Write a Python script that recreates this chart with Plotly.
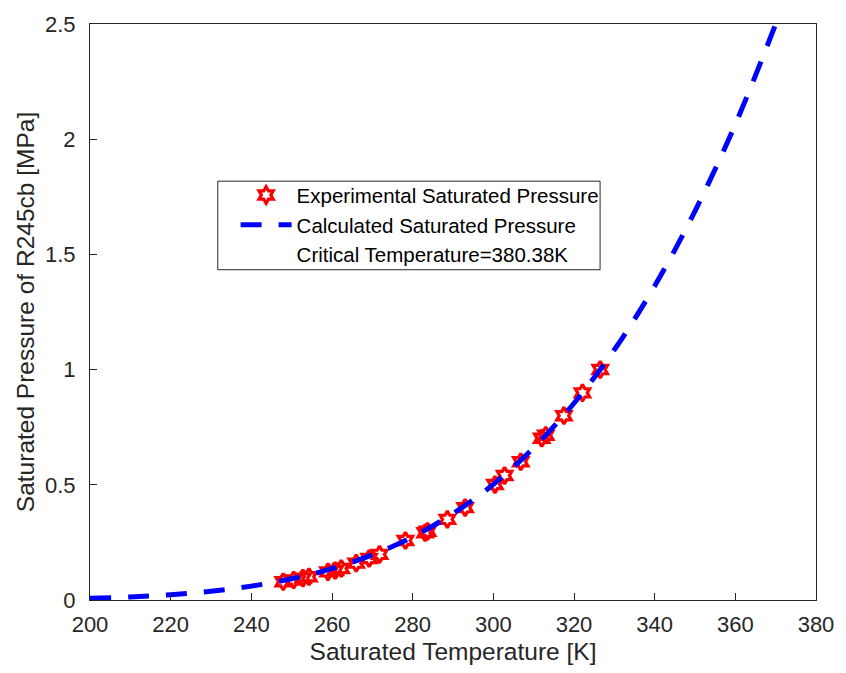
import plotly.graph_objects as go

# Experimental saturated pressure of R245cb
exp_T = [247.9, 250.5, 252.8, 254.3, 259.0, 260.8, 262.3, 266.0, 269.2, 271.8,
         278.2, 283.1, 283.7, 288.6, 293.0, 300.4, 302.8, 306.8, 312.0, 313.0,
         317.5, 322.1, 326.5]
exp_P = [0.079, 0.087, 0.095, 0.101, 0.122, 0.128, 0.137, 0.160, 0.180, 0.198,
         0.258, 0.292, 0.298, 0.350, 0.401, 0.501, 0.540, 0.600, 0.702, 0.715,
         0.800, 0.899, 1.000]

# Calculated saturated pressure curve
calc_T = [200, 210, 220, 230, 240, 250, 260, 270, 280, 290, 300, 310, 320,
          330, 340, 350, 360, 370, 375]
calc_P = [0.0072, 0.0133, 0.0230, 0.0380, 0.0603, 0.092, 0.136, 0.196, 0.274,
          0.375, 0.502, 0.661, 0.854, 1.086, 1.363, 1.688, 2.065, 2.50, 2.739]

x_ticks = [200, 220, 240, 260, 280, 300, 320, 340, 360, 380]
y_ticks = [0, 0.5, 1, 1.5, 2, 2.5]
y_tick_text = ["0", "0.5", "1", "1.5", "2", "2.5"]

FONT = "Liberation Sans, Arial, sans-serif"
AXIS_COLOR = "#262626"

fig = go.Figure()

fig.add_trace(go.Scatter(
    x=exp_T, y=exp_P, mode="markers",
    name="Experimental Saturated Pressure",
    marker=dict(symbol="hexagram-open", size=12.5, color="red",
                line=dict(color="red", width=3.2)),
))

fig.add_trace(go.Scatter(
    x=calc_T, y=calc_P, mode="lines", line_shape="spline",
    name="Calculated Saturated Pressure",
    line=dict(color="blue", width=5, dash="21px,17px"),
))

fig.add_trace(go.Scatter(
    x=[None], y=[None], mode="markers",
    name="Critical Temperature=380.38K",
    marker=dict(color="rgba(0,0,0,0)", size=1),
))

# legend frame
fig.add_shape(type="rect", xref="paper", yref="paper",
              x0=(219 - 90) / 733, x1=(605 - 90) / 733,
              y0=(600 - 268) / 579, y1=(600 - 179) / 579,
              line=dict(color=AXIS_COLOR, width=1), fillcolor="white",
              layer="below")

axis_common = dict(
    showline=True, mirror=True, linecolor=AXIS_COLOR, linewidth=1,
    ticks="inside", ticklen=7, tickwidth=1, tickcolor=AXIS_COLOR,
    showgrid=False, zeroline=False,
    tickfont=dict(family=FONT, size=22, color=AXIS_COLOR),
)

fig.update_xaxes(
    range=[200, 380], tickvals=x_ticks, ticklabelstandoff=5,
    title=dict(text="Saturated Temperature [K]", standoff=6,
               font=dict(family=FONT, size=24.5, color=AXIS_COLOR)),
    **axis_common,
)
fig.update_yaxes(
    range=[0, 2.5], tickvals=y_ticks, ticktext=y_tick_text,
    ticklabelstandoff=9,
    title=dict(text="Saturated Pressure of R245cb [MPa]", standoff=3,
               font=dict(family=FONT, size=24.5, color=AXIS_COLOR)),
    **axis_common,
)

fig.update_layout(
    width=846, height=673,
    margin=dict(l=90, r=23, t=21, b=73),
    paper_bgcolor="white", plot_bgcolor="white",
    showlegend=True,
    legend=dict(
        x=(237 - 90) / 733, y=(600 - 173) / 579,
        xanchor="left", yanchor="top",
        bgcolor="rgba(0,0,0,0)", borderwidth=0,
        itemwidth=51, tracegroupgap=0,
        font=dict(family=FONT, size=20.5, color="black"),
    ),
)

fig.write_html("out.html")
